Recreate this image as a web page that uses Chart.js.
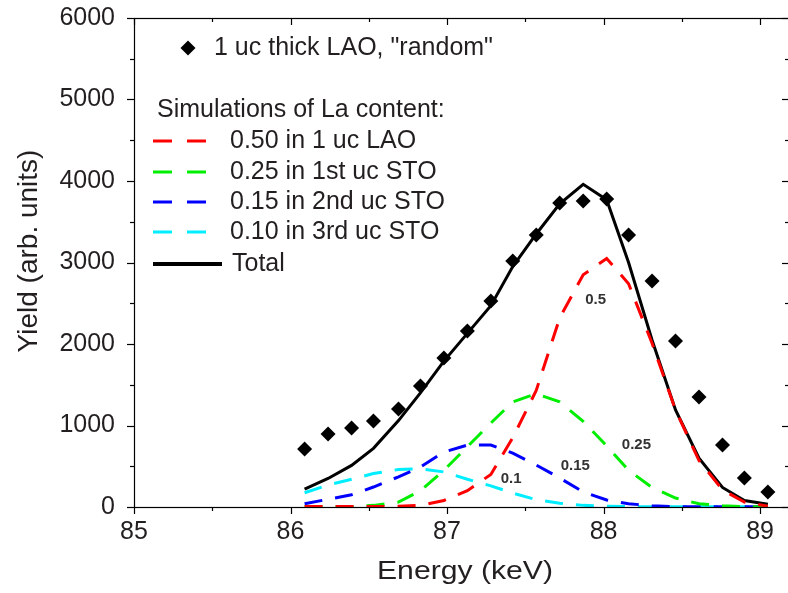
<!DOCTYPE html>
<html>
<head>
<meta charset="utf-8">
<script src="https://cdn.jsdelivr.net/npm/chart.js@4.4.1/dist/chart.umd.min.js"></script>
<style>
  html, body { margin: 0; padding: 0; background: #fff; overflow: hidden; }
  #wrap { width: 790px; height: 593px; }
</style>
</head>
<body>
<div id="wrap"><canvas id="myChart" width="790" height="593"></canvas></div>
<script>
// energy grid (keV), shared by measurement and simulations
const energy = [86.09, 86.24, 86.39, 86.53, 86.69, 86.83, 86.98, 87.13, 87.28, 87.42, 87.57,
                87.72, 87.87, 88.02, 88.16, 88.31, 88.46, 88.61, 88.76, 88.90, 89.05];
const measured = [712, 896, 969, 1055, 1202, 1485, 1828, 2160, 2528, 3018, 3337,
                  3730, 3755, 3780, 3337, 2773, 2037, 1350, 761, 356, 184];
const simLAO = [5, 5, 5, 5, 10, 20, 80, 200, 400, 850, 1430,
                2320, 2850, 3050, 2740, 2010, 1190, 570, 210, 60, 10];
const simSTO1 = [5, 5, 5, 20, 60, 200, 450, 740, 1030, 1290, 1390,
                 1290, 1050, 750, 450, 240, 110, 40, 15, 5, 2];
const simSTO2 = [40, 95, 150, 245, 370, 490, 675, 760, 760, 660, 515,
                 356, 184, 86, 40, 15, 5, 3, 2, 2, 2];
const simSTO3 = [175, 270, 340, 410, 460, 470, 430, 340, 260, 170, 90,
                 45, 20, 8, 5, 3, 2, 2, 2, 2, 2];
const simTotal = [220, 350, 510, 720, 1060, 1400, 1790, 2130, 2470, 2950, 3350,
                  3720, 3960, 3770, 3000, 2050, 1190, 600, 240, 80, 35];

const xTicks = [85, 86, 87, 88, 89];
const yTicks = [0, 1000, 2000, 3000, 4000, 5000, 6000];

// curve labels placed in data coordinates
const curveLabels = [
  { text: '0.5', x: 87.95, y: 2540 },
  { text: '0.25', x: 88.21, y: 760 },
  { text: '0.15', x: 87.82, y: 500 },
  { text: '0.1', x: 87.41, y: 340 }
];

const legendItems = [
  { label: '0.50 in 1 uc LAO', color: '#ff0000', dashed: true },
  { label: '0.25 in 1st uc STO', color: '#00ee00', dashed: true },
  { label: '0.15 in 2nd uc STO', color: '#0000ff', dashed: true },
  { label: '0.10 in 3rd uc STO', color: '#00eeff', dashed: true },
  { label: 'Total', color: '#000000', dashed: false }
];

const FONT = "'Liberation Sans', Arial, sans-serif";
const TXT = '#231f20';

const pts = (vals) => energy.map((e, i) => ({ x: e, y: vals[i] }));

function simSet(vals, color, order) {
  return {
    data: pts(vals),
    borderColor: color,
    borderWidth: 3,
    borderDash: [18, 13],
    pointRadius: 0,
    fill: false,
    tension: 0,
    order: order
  };
}

const framePlugin = {
  id: 'frame',
  afterDraw(chart) {
    const { ctx, chartArea: a, scales: { x, y } } = chart;
    ctx.save();
    ctx.strokeStyle = '#000';
    ctx.lineWidth = 1.2;
    ctx.strokeRect(a.left + 0.5, a.top + 0.5, a.right - a.left, a.bottom - a.top);
    const seg = (x1, y1, x2, y2) => { ctx.beginPath(); ctx.moveTo(x1, y1); ctx.lineTo(x2, y2); ctx.stroke(); };
    for (let v = 85; v <= x.max + 1e-6; v += 0.5) {
      const px = Math.round(x.getPixelForValue(v)) + 0.5;
      const len = Number.isInteger(v) ? 7 : 4;
      seg(px, a.bottom, px, a.bottom + len);
      seg(px, a.top, px, a.top + len);
    }
    for (let v = 0; v <= 6000; v += 500) {
      const py = Math.round(y.getPixelForValue(v)) + 0.5;
      const len = v % 1000 === 0 ? 7 : 4;
      seg(a.left - len, py, a.left, py);
      seg(a.right - len, py, a.right, py);
    }

    // axis titles
    ctx.fillStyle = TXT;
    ctx.textAlign = 'center';
    ctx.textBaseline = 'middle';
    ctx.save();
    ctx.translate(465, 572);
    ctx.scale(1.16, 1);
    ctx.font = '26px ' + FONT;
    ctx.fillText('Energy (keV)', 0, 0);
    ctx.restore();
    ctx.save();
    ctx.translate(29, 251);
    ctx.rotate(-Math.PI / 2);
    ctx.font = '28px ' + FONT;
    ctx.fillText('Yield (arb. units)', 0, 0);
    ctx.restore();

    // curve labels
    ctx.font = 'bold 15px ' + FONT;
    ctx.fillStyle = '#333';
    curveLabels.forEach(l => ctx.fillText(l.text, x.getPixelForValue(l.x), y.getPixelForValue(l.y)));

    // legend
    ctx.textAlign = 'left';
    ctx.font = '25px ' + FONT;
    ctx.fillStyle = '#000';
    ctx.beginPath();
    ctx.moveTo(188, 40.5); ctx.lineTo(195.5, 48); ctx.lineTo(188, 55.5); ctx.lineTo(180.5, 48);
    ctx.closePath(); ctx.fill();
    ctx.fillStyle = TXT;
    ctx.fillText('1 uc thick LAO, "random"', 214, 48);
    ctx.fillText('Simulations of La content:', 157, 110);
    const rows = [141, 172, 202, 232, 264];
    legendItems.forEach((it, i) => {
      ctx.strokeStyle = it.color;
      ctx.lineWidth = it.dashed ? 3 : 4;
      if (it.dashed) {
        seg(153, rows[i], 172, rows[i]);
        seg(187, rows[i], 206, rows[i]);
      } else {
        seg(153, rows[i], 222, rows[i]);
      }
      ctx.fillStyle = TXT;
      ctx.fillText(it.label, i === 4 ? 232 : 230, rows[i]);
    });
    ctx.restore();
  }
};

const ctx = document.getElementById('myChart').getContext('2d');
const myChart = new Chart(ctx, {
  type: 'line',
  data: {
    datasets: [
      {
        data: pts(measured),
        showLine: false,
        pointStyle: 'rectRot',
        pointRadius: 7.5,
        pointBackgroundColor: '#000',
        pointBorderColor: '#000',
        pointBorderWidth: 0,
        order: 6
      },
      simSet(simLAO, '#ff0000', 1),
      simSet(simSTO1, '#00ee00', 2),
      simSet(simSTO2, '#0000ff', 3),
      simSet(simSTO3, '#00eeff', 4),
      {
        data: pts(simTotal),
        borderColor: '#000',
        borderWidth: 3,
        pointRadius: 0,
        fill: false,
        tension: 0,
        order: 5
      }
    ]
  },
  options: {
    responsive: false,
    animation: false,
    layout: { autoPadding: false, padding: { top: 18, right: 1, left: 0, bottom: 0 } },
    plugins: { legend: { display: false }, tooltip: { enabled: false } },
    scales: {
      x: {
        type: 'linear',
        min: 85,
        max: 89.185,
        afterFit: (s) => { s.height = 86; s.paddingLeft = 0; s.paddingRight = 0; },
        afterBuildTicks: (s) => { s.ticks = xTicks.map(v => ({ value: v })); },
        grid: { display: false, drawTicks: false },
        border: { display: false },
        ticks: { color: TXT, font: { family: FONT, size: 25 }, padding: 10, maxRotation: 0, autoSkip: false,
                 callback: (v) => String(v) }
      },
      y: {
        min: 0,
        max: 6000,
        afterFit: (s) => { s.width = 134; s.paddingTop = 0; s.paddingBottom = 0; },
        afterBuildTicks: (s) => { s.ticks = yTicks.map(v => ({ value: v })); },
        grid: { display: false, drawTicks: false },
        border: { display: false },
        ticks: { color: TXT, font: { family: FONT, size: 25 }, padding: 19, autoSkip: false,
                 callback: (v) => String(v) }
      }
    }
  },
  plugins: [framePlugin]
});
</script>
</body>
</html>
